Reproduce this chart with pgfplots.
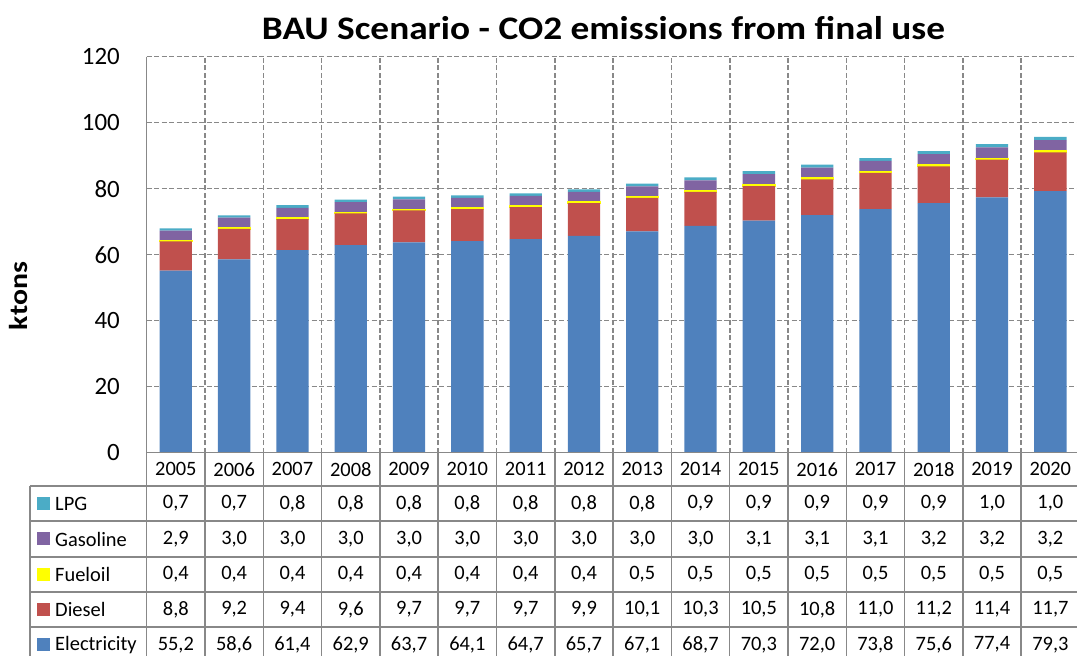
\documentclass[border=0pt]{standalone}
\usepackage{pgfplots}
\pgfplotsset{compat=1.18}
\usepackage{pgfplotstable}
\usepackage{fontspec}
\setmainfont{Carlito}
\definecolor{cElec}{HTML}{4F81BD}
\definecolor{cDiesel}{HTML}{C0504D}
\definecolor{cFuel}{HTML}{FFFF00}
\definecolor{cGas}{HTML}{8064A2}
\definecolor{cLPG}{HTML}{4BACC6}
\definecolor{gridgray}{HTML}{888888}
\pgfplotstableread{
x year Elec Diesel Fuel Gas LPG
0 2005 55.2 8.8 0.4 2.9 0.7
1 2006 58.6 9.2 0.4 3.0 0.7
2 2007 61.4 9.4 0.4 3.0 0.8
3 2008 62.9 9.6 0.4 3.0 0.8
4 2009 63.7 9.7 0.4 3.0 0.8
5 2010 64.1 9.7 0.4 3.0 0.8
6 2011 64.7 9.7 0.4 3.0 0.8
7 2012 65.7 9.9 0.4 3.0 0.8
8 2013 67.1 10.1 0.5 3.0 0.8
9 2014 68.7 10.3 0.5 3.0 0.9
10 2015 70.3 10.5 0.5 3.1 0.9
11 2016 72.0 10.8 0.5 3.1 0.9
12 2017 73.8 11.0 0.5 3.1 0.9
13 2018 75.6 11.2 0.5 3.2 0.9
14 2019 77.4 11.4 0.5 3.2 1.0
15 2020 79.3 11.7 0.5 3.2 1.0
}\data
\newcommand{\tabfont}{\fontsize{20.5}{24}\selectfont}
\begin{document}
\begin{tikzpicture}[x=1bp,y=1bp]
\begin{axis}[
  at={(0,0)}, anchor=south west,
  scale only axis, width=932.8bp, height=396bp,
  xmin=-0.5, xmax=15.5, ymin=0, ymax=120,
  ybar stacked, bar width=32.3bp,
  axis line style={draw=none},
  ytick={0,20,...,120},
  xtick={0.5,1.5,...,14.5}, xticklabels={},
  ymajorgrids, xmajorgrids,
  major grid style={gridgray, line width=1.6bp, dash pattern=on 5bp off 2.5bp},
  tick style={draw=none},
  /pgf/number format/assume math mode=true,
  yticklabel style={font=\fontsize{25}{30}\selectfont, anchor=east, inner sep=0pt, xshift=-26.7bp},
  clip=false,
]
\addplot[fill=cElec, draw=none] table[x=x, y=Elec]{\data};
\addplot[fill=cDiesel, draw=none] table[x=x, y=Diesel]{\data};
\addplot[fill=cFuel, draw=cFuel, line width=0.9bp] table[x=x, y=Fuel]{\data};
\addplot[fill=cGas, draw=none] table[x=x, y=Gas]{\data};
\addplot[fill=cLPG, draw=none] table[x=x, y=LPG]{\data};
\end{axis}
\begin{axis}[
  at={(0,0)}, anchor=south west,
  scale only axis, width=932.8bp, height=396bp,
  xmin=-0.5, xmax=15.5, ymin=0, ymax=120,
  hide axis, clip=false,
  /pgf/number format/assume math mode=true,
  nodes near coords style={anchor=center, font=\tabfont, inner sep=0pt},
]
\addplot[draw=none, mark=none, point meta=explicit,
  nodes near coords={\pgfmathprintnumber[fixed,precision=0,1000 sep={}]{\pgfplotspointmeta}}]
  table[x=x, y expr=-5.06, meta=year]{\data};
\addplot[draw=none, mark=none, point meta=explicit,
  nodes near coords={\pgfmathprintnumber[fixed,fixed zerofill,precision=1,use comma]{\pgfplotspointmeta}}]
  table[x=x, y expr=-15.39, meta=LPG]{\data};
\addplot[draw=none, mark=none, point meta=explicit,
  nodes near coords={\pgfmathprintnumber[fixed,fixed zerofill,precision=1,use comma]{\pgfplotspointmeta}}]
  table[x=x, y expr=-26.15, meta=Gas]{\data};
\addplot[draw=none, mark=none, point meta=explicit,
  nodes near coords={\pgfmathprintnumber[fixed,fixed zerofill,precision=1,use comma]{\pgfplotspointmeta}}]
  table[x=x, y expr=-36.91, meta=Fuel]{\data};
\addplot[draw=none, mark=none, point meta=explicit,
  nodes near coords={\pgfmathprintnumber[fixed,fixed zerofill,precision=1,use comma]{\pgfplotspointmeta}}]
  table[x=x, y expr=-47.52, meta=Diesel]{\data};
\addplot[draw=none, mark=none, point meta=explicit,
  nodes near coords={\pgfmathprintnumber[fixed,fixed zerofill,precision=1,use comma]{\pgfplotspointmeta}}]
  table[x=x, y expr=-58.18, meta=Elec]{\data};
\end{axis}
% table frame
\begin{scope}[draw=gridgray, line width=1.5bp]
\draw (0,396) -- (0,-215);
\foreach \k in {1,...,16} { \draw (\k*58.3,0) -- (\k*58.3,-215); }
\draw (-116.7,-33.3) -- (-116.7,-215);
\draw (0,0) -- (940,0);
\foreach \yy in {-33.3,-68.3,-104.3,-139.3,-174.3} { \draw (-116.7,\yy) -- (940,\yy); }
\end{scope}
% row labels
\foreach \yy/\col/\lab in {-50.8/cLPG/LPG,-86.3/cGas/Gasoline,-121.8/cFuel/Fueloil,-156.8/cDiesel/Diesel,-192/cElec/Electricity} {
  \fill[\col] (-109.2,\yy-6.5) rectangle (-96.2,\yy+6.5);
  \node[anchor=west, inner sep=0pt, font=\tabfont] at (-91.7,\yy) {\lab};
}
\node[anchor=base, inner sep=0pt, font=\bfseries\fontsize{33}{40}\selectfont] at (456.8,413.4) {\scalebox{1.135}[1]{BAU Scenario - CO2 emissions from final use}};
\node[rotate=90, inner sep=0pt, font=\bfseries\fontsize{26}{30}\selectfont] at (-127.7,156.7) {\scalebox{1.15}[1]{ktons}};
\pgfresetboundingbox
\useasboundingbox (-146.7,-203.3) rectangle (930.3,452.7);
\end{tikzpicture}
\end{document}
